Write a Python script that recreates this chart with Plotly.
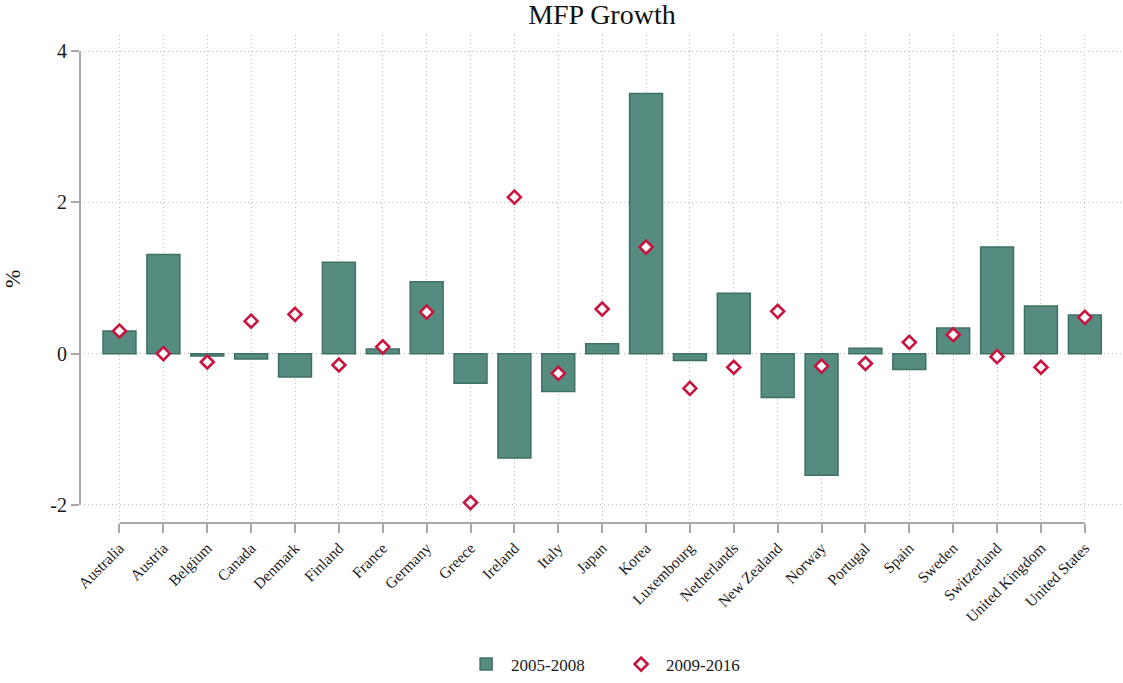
import plotly.graph_objects as go

countries = ["Australia", "Austria", "Belgium", "Canada", "Denmark", "Finland", "France",
             "Germany", "Greece", "Ireland", "Italy", "Japan", "Korea", "Luxembourg",
             "Netherlands", "New Zealand", "Norway", "Portugal", "Spain", "Sweden",
             "Switzerland", "United Kingdom", "United States"]
mfp_2005_2008 = [0.30, 1.31, -0.03, -0.07, -0.31, 1.21, 0.06, 0.95, -0.39, -1.38, -0.50, 0.13,
                 3.44, -0.09, 0.80, -0.58, -1.61, 0.07, -0.21, 0.34, 1.41, 0.63, 0.51]
mfp_2009_2016 = [0.30, 0.00, -0.11, 0.43, 0.52, -0.15, 0.09, 0.55, -1.97, 2.07, -0.26, 0.59,
                 1.41, -0.46, -0.18, 0.56, -0.165, -0.13, 0.15, 0.25, -0.04, -0.18, 0.48]
y_ticks = [-2, 0, 2, 4]
y_tick_labels = ["-2", "0", "2", "4"]

x_idx = list(range(len(countries)))
FONT = "Liberation Serif, Times New Roman, serif"
GRID = "#bdbdbd"
AXIS = "#a8a8a8"

fig = go.Figure()
fig.add_trace(go.Bar(
    x=x_idx, y=mfp_2005_2008, name="2005-2008", width=0.75,
    marker=dict(color="#568B80", line=dict(color="#3E7066", width=1.5)),
))
fig.add_trace(go.Scatter(
    x=x_idx, y=mfp_2009_2016, name="2009-2016", mode="markers",
    marker=dict(symbol="diamond", size=10, color="white",
                line=dict(color="#C8143F", width=2.6)),
))

# axis lines spanning only the data extent (Stata style)
fig.add_shape(type="line", xref="paper", yref="y", x0=0, x1=0, y0=min(y_ticks), y1=max(y_ticks),
              line=dict(color=AXIS, width=2))
fig.add_shape(type="line", xref="x", yref="paper", x0=x_idx[0], x1=x_idx[-1], y0=0, y1=0,
              line=dict(color=AXIS, width=2))

fig.update_layout(
    width=1123, height=683,
    margin=dict(l=80, r=0, t=35, b=155),
    paper_bgcolor="white", plot_bgcolor="white",
    font=dict(family=FONT, color="#1a1a1a"),
    title=dict(text="MFP Growth", x=0.536, xanchor="center", y=0.979, yanchor="middle",
               font=dict(family=FONT, size=28, color="#111")),
    showlegend=True,
    legend=dict(orientation="h", x=0.514, xanchor="center", y=-0.29, yanchor="middle",
                font=dict(family=FONT, size=17), itemwidth=40, tracegroupgap=0,
                entrywidth=100, entrywidthmode="pixels"),
    bargap=0.25,
)
fig.update_xaxes(
    range=[-0.9, 22.87], tickmode="array", tickvals=x_idx, ticktext=countries,
    tickangle=-45, tickfont=dict(family=FONT, size=15.5, color="#1a1a1a"),
    ticks="outside", ticklen=9, tickwidth=1.5, tickcolor=AXIS,
    showgrid=True, gridcolor=GRID, griddash="1px,3px", gridwidth=1,
    showline=False, zeroline=False,
)
fig.update_yaxes(
    range=[-2.24, 4.215], tickmode="array", tickvals=y_ticks, ticktext=y_tick_labels,
    tickfont=dict(family=FONT, size=20, color="#1a1a1a"),
    ticks="outside", ticklen=8, tickwidth=1.5, tickcolor=AXIS,
    showgrid=True, gridcolor=GRID, griddash="1px,3px", gridwidth=1,
    showline=False, zeroline=False,
)
fig.add_annotation(text="%", xref="paper", yref="paper", x=0, y=0.5, xshift=-68,
                   xanchor="center", yanchor="middle",
                   textangle=-90, showarrow=False, font=dict(family=FONT, size=22, color="#111"))

fig.write_html("out.html")
